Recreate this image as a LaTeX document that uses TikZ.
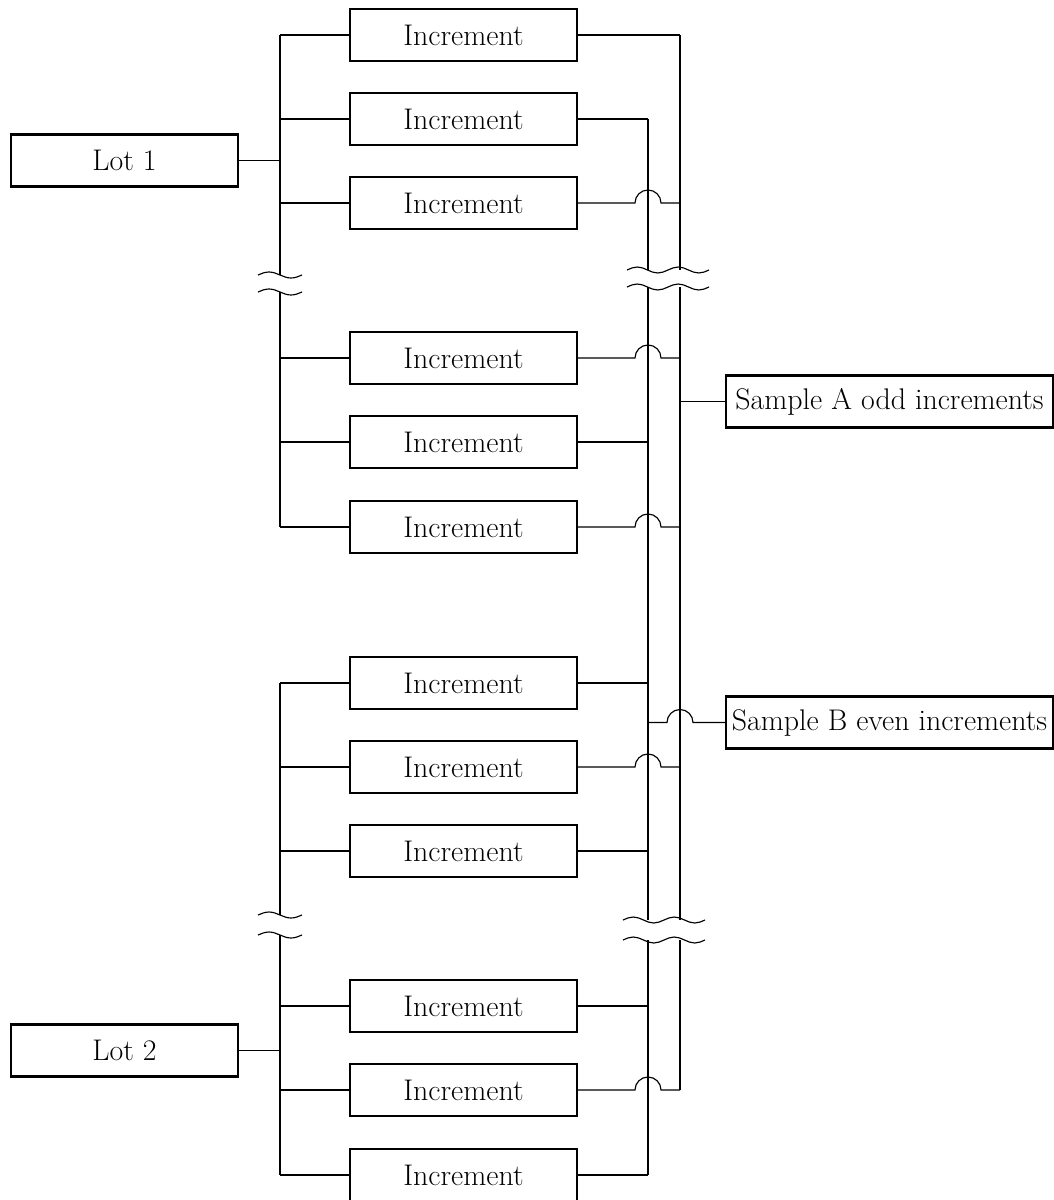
\documentclass[tikz,border=0pt]{standalone}
\usetikzlibrary{positioning}
\tikzset{
    % Base box style
    basebox/.style={
        draw=black,
        fill=white,
        line width=1.4pt,
        minimum height=1.04cm,
        inner sep=0pt,
        align=center,
        font=\fontsize{17}{20}\selectfont
    },
    % Increment box
    incbox/.style={
        basebox,
        minimum width=4.54cm
    },
    % Lot box
    lotbox/.style={
        basebox,
        minimum width=4.54cm
    },
    % Sample box
    samplebox/.style={
        basebox,
        minimum width=6.54cm
    },
    % Plain connector
    link/.style={
        line width=0.65pt,
        draw=black
    },
    % Break marks
    brknarrow/.pic={
        \draw[link] (-22,0) sin (-11,-3) cos (0,0) sin (11,3) cos (22,0);
    },
    brkwide/.pic={
        \draw[link] (-41,0) sin (-30.75,-3) cos (-20.5,0) sin (-10.25,3) cos (0,0)
            sin (10.25,-3) cos (20.5,0) sin (30.75,3) cos (41,0);
    }
}

\begin{document}
\begin{tikzpicture}[x=0.02cm, y=-0.02cm]
    \useasboundingbox (0,0) rectangle (1054,1200);

    % buses
    \coordinate (busL) at (280,0);
    \coordinate (busB) at (648,0);
    \coordinate (busA) at (680,0);

    \node[lotbox] (lot1) at (124.5,160.5) {Lot 1};
    \node[lotbox] (lot2) at (124.5,1050.5) {Lot 2};

    \node[incbox] (inc1) at (463.5,35) {Increment};
    \node[incbox] (inc2) at (463.5,119) {Increment};
    \node[incbox] (inc3) at (463.5,203) {Increment};
    \node[incbox] (inc4) at (463.5,358) {Increment};
    \node[incbox] (inc5) at (463.5,442) {Increment};
    \node[incbox] (inc6) at (463.5,527) {Increment};
    \node[incbox] (inc7) at (463.5,683) {Increment};
    \node[incbox] (inc8) at (463.5,767) {Increment};
    \node[incbox] (inc9) at (463.5,851) {Increment};
    \node[incbox] (inc10) at (463.5,1006) {Increment};
    \node[incbox] (inc11) at (463.5,1090) {Increment};
    \node[incbox] (inc12) at (463.5,1175) {Increment};

    \node[samplebox] (smpA) at (889.5,401.5) {Sample A odd increments};
    \node[samplebox] (smpB) at (889.5,722.5) {Sample B even increments};

    % break points
    \coordinate (brkL1) at (280,275);
    \coordinate (brkL1b) at (280,292);
    \coordinate (brkL2) at (280,915);
    \coordinate (brkL2b) at (280,935);
    \coordinate (brkB1) at (648,270);
    \coordinate (brkB1b) at (648,287);
    \coordinate (brkA1) at (680,270);
    \coordinate (brkA1b) at (680,287);
    \coordinate (brkB2) at (648,920);
    \coordinate (brkB2b) at (648,940);
    \coordinate (brkA2) at (680,920);
    \coordinate (brkA2b) at (680,940);

    % left buses
    \draw[link] (lot1.east) -- (lot1.east -| busL);
    \draw[link] (inc1.west -| busL) -- (brkL1);
    \draw[link] (brkL1b) -- (inc6.west -| busL);
    \draw[link] (lot2.east) -- (lot2.east -| busL);
    \draw[link] (inc7.west -| busL) -- (brkL2);
    \draw[link] (brkL2b) -- (inc12.west -| busL);

    \draw[link] (inc1.west) -- (inc1.west -| busL);
    \draw[link] (inc2.west) -- (inc2.west -| busL);
    \draw[link] (inc3.west) -- (inc3.west -| busL);
    \draw[link] (inc4.west) -- (inc4.west -| busL);
    \draw[link] (inc5.west) -- (inc5.west -| busL);
    \draw[link] (inc6.west) -- (inc6.west -| busL);
    \draw[link] (inc7.west) -- (inc7.west -| busL);
    \draw[link] (inc8.west) -- (inc8.west -| busL);
    \draw[link] (inc9.west) -- (inc9.west -| busL);
    \draw[link] (inc10.west) -- (inc10.west -| busL);
    \draw[link] (inc11.west) -- (inc11.west -| busL);
    \draw[link] (inc12.west) -- (inc12.west -| busL);

    % right buses
    \draw[link] (inc1.east -| busA) -- (brkA1);
    \draw[link] (brkA1b) -- (brkA2);
    \draw[link] (brkA2b) -- (inc11.east -| busA);
    \draw[link] (inc2.east -| busB) -- (brkB1);
    \draw[link] (brkB1b) -- (brkB2);
    \draw[link] (brkB2b) -- (inc12.east -| busB);

    % odd increments to sample A
    \draw[link] (inc1.east) -- (inc1.east -| busA);
    \draw[link] (inc3.east) -- ([xshift=-0.26cm]inc3.east -| busB)
        arc[start angle=180, end angle=0, radius=0.26cm] -- (inc3.east -| busA);
    \draw[link] (inc4.east) -- ([xshift=-0.26cm]inc4.east -| busB)
        arc[start angle=180, end angle=0, radius=0.26cm] -- (inc4.east -| busA);
    \draw[link] (inc6.east) -- ([xshift=-0.26cm]inc6.east -| busB)
        arc[start angle=180, end angle=0, radius=0.26cm] -- (inc6.east -| busA);
    \draw[link] (inc8.east) -- ([xshift=-0.26cm]inc8.east -| busB)
        arc[start angle=180, end angle=0, radius=0.26cm] -- (inc8.east -| busA);
    \draw[link] (inc11.east) -- ([xshift=-0.26cm]inc11.east -| busB)
        arc[start angle=180, end angle=0, radius=0.26cm] -- (inc11.east -| busA);

    % even increments to sample B
    \draw[link] (inc2.east) -- (inc2.east -| busB);
    \draw[link] (inc5.east) -- (inc5.east -| busB);
    \draw[link] (inc7.east) -- (inc7.east -| busB);
    \draw[link] (inc9.east) -- (inc9.east -| busB);
    \draw[link] (inc10.east) -- (inc10.east -| busB);
    \draw[link] (inc12.east) -- (inc12.east -| busB);

    % samples
    \draw[link] (smpA.west -| busA) -- (smpA.west);
    \draw[link] (smpB.west -| busB) -- ([xshift=-0.26cm]smpB.west -| busA)
        arc[start angle=180, end angle=0, radius=0.26cm] -- (smpB.west);

    % break marks
    \pic at (brkL1) {brknarrow};
    \pic at (brkL1b) {brknarrow};
    \pic at (brkL2) {brknarrow};
    \pic at (brkL2b) {brknarrow};
    \pic at (668,270) {brkwide};
    \pic at (668,287) {brkwide};
    \pic at (664,920) {brkwide};
    \pic at (664,940) {brkwide};
\end{tikzpicture}
\end{document}
